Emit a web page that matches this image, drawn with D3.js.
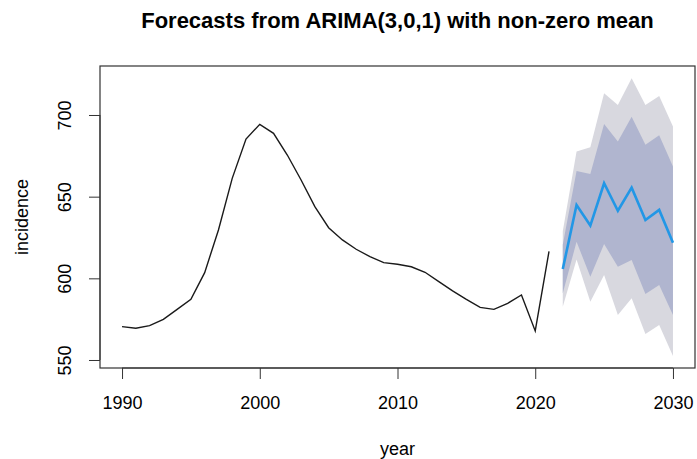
<!DOCTYPE html>
<html>
<head>
<meta charset="utf-8">
<script src="https://cdn.jsdelivr.net/npm/d3@7"></script>
<style>
  body { margin: 0; background: #fff; }
  svg text { font-family: "Liberation Sans", Arial, sans-serif; fill: #000; }
  .title { font-size: 22px; font-weight: bold; }
  .tick text { font-size: 18px; }
  .lab { font-size: 18px; }
</style>
</head>
<body>
<div id="chart"></div>
<script>
// observed series
var years = d3.range(1990, 2022);
var incidence = [570.4, 569.4, 571.0, 574.9, 581.0, 587.2, 603.5, 629.6, 661.2, 685.3,
  694.3, 688.8, 675.5, 660.2, 643.9, 631.0, 623.5, 617.8, 613.3, 609.6,
  608.6, 607.1, 603.7, 598.0, 592.3, 587.1, 582.2, 581.0, 584.7, 589.8,
  567.8, 616.5];

// forecasts
var fcYears = d3.range(2022, 2031);
var fcMean = [605.7, 644.9, 632.3, 658.2, 641.4, 655.5, 635.7, 641.9, 621.8];
var lo80 = [590.8, 622.4, 601.0, 621.0, 607.1, 611.2, 590.4, 595.9, 577.6];
var hi80 = [620.6, 665.7, 663.9, 694.5, 683.7, 699.0, 681.8, 687.6, 668.4];
var lo95 = [582.6, 611.6, 585.7, 602.0, 577.6, 587.8, 565.9, 571.4, 552.4];
var hi95 = [628.8, 677.6, 680.2, 713.3, 706.1, 722.5, 706.1, 711.7, 692.9];

var xTicks = [1990, 2000, 2010, 2020, 2030];
var yTicks = [550, 600, 650, 700];

var width = 697, height = 459;
var mLeft = 100, mRight = 695, mTop = 66, mBottom = 368;

var svg = d3.select("#chart").append("svg")
    .attr("width", width)
    .attr("height", height);

var x = d3.scaleLinear().domain([1988.4, 2031.6]).range([mLeft, mRight]);
var y = d3.scaleLinear().domain([545.1, 730]).range([mBottom, mTop]);

// prediction bands
var area = function(lo, hi) {
  return d3.area()
      .x(function(d, i) { return x(fcYears[i]); })
      .y0(function(d, i) { return y(lo[i]); })
      .y1(function(d, i) { return y(hi[i]); })(fcYears);
};
svg.append("path").attr("d", area(lo95, hi95)).attr("fill", "#d8d8df");
svg.append("path").attr("d", area(lo80, hi80)).attr("fill", "#b0b5cf");

var line = d3.line()
    .x(function(d) { return x(d[0]); })
    .y(function(d) { return y(d[1]); });

svg.append("path")
    .attr("d", line(d3.zip(years, incidence)))
    .attr("fill", "none")
    .attr("stroke", "#1a1a1a")
    .attr("stroke-width", 1.4);

svg.append("path")
    .attr("d", line(d3.zip(fcYears, fcMean)))
    .attr("fill", "none")
    .attr("stroke", "#2297e6")
    .attr("stroke-width", 2.6);

// box
svg.append("rect")
    .attr("x", mLeft).attr("y", mTop)
    .attr("width", mRight - mLeft).attr("height", mBottom - mTop)
    .attr("fill", "none")
    .attr("stroke", "#333")
    .attr("stroke-width", 1.2);

// axes
var xAxis = svg.append("g")
    .attr("transform", "translate(0," + mBottom + ")")
    .call(d3.axisBottom(x).tickValues(xTicks).tickFormat(d3.format("d")).tickSize(11).tickPadding(17));
xAxis.select(".domain").attr("d", "M" + x(1990) + ",0H" + x(2030)).attr("stroke", "#333");
xAxis.selectAll(".tick line").attr("stroke", "#333");

var yAxis = svg.append("g")
    .attr("transform", "translate(" + mLeft + ",0)")
    .call(d3.axisLeft(y).tickValues(yTicks).tickSize(11).tickPadding(0));
yAxis.select(".domain").attr("d", "M0," + y(550) + "V" + y(700)).attr("stroke", "#333");
yAxis.selectAll(".tick line").attr("stroke", "#333");
yAxis.selectAll(".tick text")
    .attr("x", 0)
    .attr("text-anchor", "middle")
    .attr("transform", "translate(-35,0) rotate(-90)")
    .attr("dy", "0.35em");

// titles
svg.append("text")
    .attr("class", "title")
    .attr("x", (mLeft + mRight) / 2)
    .attr("y", 28)
    .attr("text-anchor", "middle")
    .text("Forecasts from ARIMA(3,0,1) with non-zero mean");

svg.append("text")
    .attr("class", "lab")
    .attr("x", (mLeft + mRight) / 2)
    .attr("y", 455)
    .attr("text-anchor", "middle")
    .text("year");

svg.append("text")
    .attr("class", "lab")
    .attr("transform", "translate(28," + (mTop + mBottom) / 2 + ") rotate(-90)")
    .attr("text-anchor", "middle")
    .text("incidence");
</script>
</body>
</html>
